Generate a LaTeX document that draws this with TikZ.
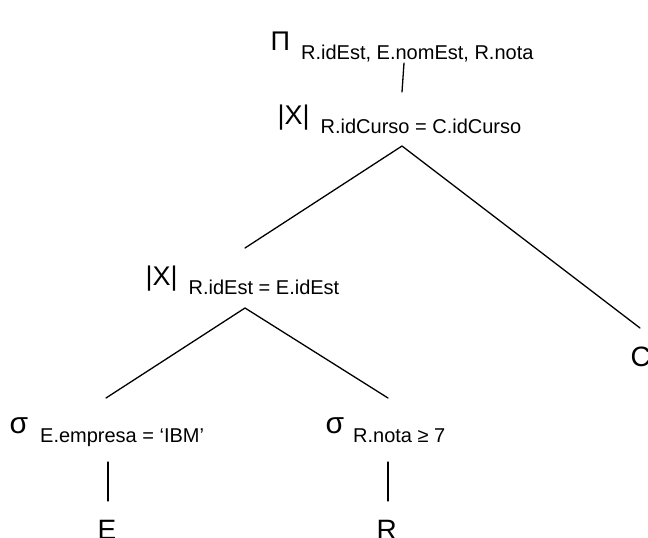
\documentclass[tikz,border=0pt]{standalone}
\usepackage{fontspec}
\setmainfont{Liberation Sans}
\newcommand{\opsym}[1]{{\fontsize{27}{27}\selectfont #1}}
\newcommand{\opsub}[1]{\raisebox{-9pt}{\fontsize{20}{20}\selectfont #1}}
\begin{document}
\begin{tikzpicture}[x=1pt, y=-1pt, line join=round, line cap=round, line width=1.3pt,
		op/.style={anchor=base west, inner sep=0pt},
		leaf/.style={anchor=base west, inner sep=0pt, font=\fontsize{28}{28}\selectfont}]
				\useasboundingbox (0,0) rectangle (648,538);
				\clip (0,0) rectangle (648,538);
				\node[op] (proj) at (270,50) {\opsym{Π}\hspace{11pt}\opsub{R.idEst, E.nomEst, R.nota}};
				\node[op] (joinC) at (277,124) {\opsym{|X|}\hspace{11pt}\opsub{R.idCurso = C.idCurso}};
				\node[op] (joinE) at (145,285) {\opsym{|X|}\hspace{11pt}\opsub{R.idEst = E.idEst}};
				\node[op] (selE) at (9,433) {{\fontsize{30}{30}\selectfont σ}\hspace{12pt}\opsub{E.empresa = ‘IBM’}};
				\node[op] (selR) at (325,433) {{\fontsize{30}{30}\selectfont σ}\hspace{9pt}\opsub{R.nota ≥ 7}};
				\node[leaf] (E) at (97,539) {E};
				\node[leaf] (R) at (376,539) {R};
				\node[leaf] (C) at (630,366) {C};
				\path
				(404,63) coordinate (proj-b)
				(402,92) coordinate (joinC-t)
				(402,146) coordinate (joinC-b)
				(245,248) coordinate (joinE-t)
				(640,328) coordinate (C-t)
				(245,308) coordinate (joinE-b)
				(106,398) coordinate (selE-t)
				(388,398) coordinate (selR-t)
				(108,462) coordinate (selE-b)
				(108,501) coordinate (E-t)
				(388,462) coordinate (selR-b)
				(388,501) coordinate (R-t)
;
				\draw (proj-b)--(joinC-t);
				\draw (joinE-t)--(joinC-b)--(C-t);
				\draw (selE-t)--(joinE-b)--(selR-t);
				\draw (selE-b)--(E-t) (selR-b)--(R-t);
			\end{tikzpicture}
\end{document}
